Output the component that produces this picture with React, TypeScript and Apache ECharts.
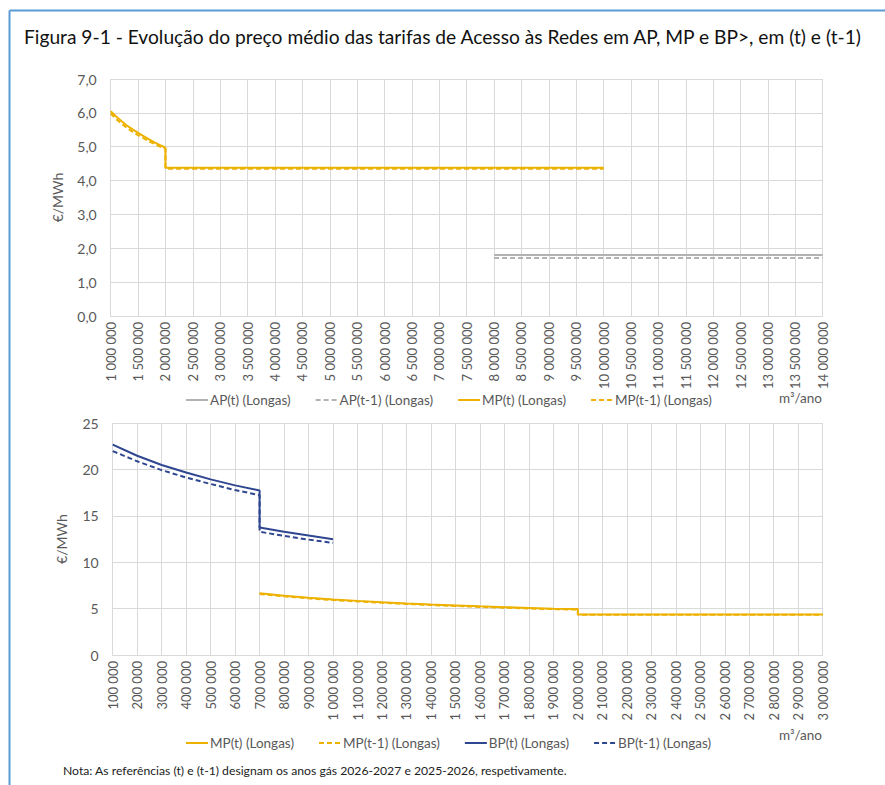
import React, { useEffect, useRef } from "react";
import * as echarts from "echarts";

const titleText =
  "Figura 9-1 - Evolução do preço médio das tarifas de Acesso às Redes em AP, MP e BP>, em (t) e (t-1)";
const noteText =
  "Nota: As referências (t) e (t-1) designam os anos gás 2026-2027 e 2025-2026, respetivamente.";
const unitX = "m³/ano";
const unitY = "€/MWh";

// Top chart (m³/ano, €/MWh)
const topAPt: [number, number][] = [
  [8000000, 1.8],
  [14000000, 1.8],
];
const topAPt1: [number, number][] = [
  [8000000, 1.71],
  [14000000, 1.71],
];
const topMPt: [number, number][] = [
  [1000000, 6.05], [1100000, 5.89], [1200000, 5.75], [1300000, 5.62], [1400000, 5.51],
  [1500000, 5.41], [1600000, 5.31], [1700000, 5.22], [1800000, 5.13], [1900000, 5.05],
  [2000000, 4.97], [2000000, 4.38], [10000000, 4.38],
];
const topMPt1: [number, number][] = [
  [1000000, 5.98], [1100000, 5.82], [1200000, 5.68], [1300000, 5.55], [1400000, 5.44],
  [1500000, 5.34], [1600000, 5.25], [1700000, 5.16], [1800000, 5.08], [1900000, 5.0],
  [2000000, 4.93], [2000000, 4.35], [10000000, 4.35],
];

// Bottom chart
const botMPt: [number, number][] = [
  [700000, 6.65], [800000, 6.4], [900000, 6.18], [1000000, 6.0], [1100000, 5.84],
  [1200000, 5.7], [1300000, 5.57], [1400000, 5.45], [1500000, 5.35], [1600000, 5.25],
  [1700000, 5.16], [1800000, 5.08], [1900000, 5.0], [2000000, 4.95], [2000000, 4.38],
  [3000000, 4.38],
];
const botMPt1: [number, number][] = [
  [700000, 6.58], [800000, 6.33], [900000, 6.11], [1000000, 5.93], [1100000, 5.78],
  [1200000, 5.64], [1300000, 5.51], [1400000, 5.39], [1500000, 5.29], [1600000, 5.19],
  [1700000, 5.1], [1800000, 5.02], [1900000, 4.95], [2000000, 4.9], [2000000, 4.34],
  [3000000, 4.34],
];
const botBPt: [number, number][] = [
  [100000, 22.7], [200000, 21.5], [300000, 20.5], [400000, 19.7], [500000, 18.95],
  [600000, 18.3], [700000, 17.75], [700000, 13.75], [800000, 13.3], [900000, 12.9],
  [1000000, 12.5],
];
const botBPt1: [number, number][] = [
  [100000, 22.0], [200000, 20.9], [300000, 19.95], [400000, 19.15], [500000, 18.45],
  [600000, 17.8], [700000, 17.25], [700000, 13.3], [800000, 12.85], [900000, 12.45],
  [1000000, 12.1],
];

const topLegend = ["AP(t) (Longas)", "AP(t-1) (Longas)", "MP(t) (Longas)", "MP(t-1) (Longas)"];
const botLegend = ["MP(t) (Longas)", "MP(t-1) (Longas)", "BP(t) (Longas)", "BP(t-1) (Longas)"];

const FONT = "Lato";
const GOLD = "#EDB100";
const NAVY = "#2F4690";
const GREY = "#B2B2B2";
const GRID = "#D9D9D9";
const TXT = "#595959";

const fmtThousands = (v: number) =>
  String(v).replace(/\B(?=(\d{3})+(?!\d))/g, " ");

export default function App() {
  const ref = useRef<HTMLDivElement>(null);
  useEffect(() => {
    if (!ref.current) return;
    const chart = echarts.init(ref.current, undefined, { renderer: "svg" });
    const xAxisCommon = {
      type: "value" as const,
      axisLine: { show: true, lineStyle: { color: GRID, width: 1 } },
      axisTick: { show: false },
      splitLine: { show: true, lineStyle: { color: GRID, width: 1 } },
      axisLabel: {
        rotate: 90,
        color: TXT,
        fontFamily: FONT,
        fontSize: 13,
        margin: 6,
        formatter: (v: number) => fmtThousands(v),
      },
    };
    const yAxisCommon = {
      type: "value" as const,
      name: unitY,
      nameLocation: "middle" as const,
      nameRotate: 90,
      nameTextStyle: { color: TXT, fontFamily: FONT, fontSize: 14 },
      axisLine: { show: false },
      axisTick: { show: false },
      splitLine: { show: true, lineStyle: { color: GRID, width: 1 } },
      axisLabel: { color: TXT, fontFamily: FONT, fontSize: 14, margin: 14 },
    };
    const solid = (c: string) => ({ color: c, width: 2, type: "solid" as const });
    const dashed = (c: string) => ({ color: c, width: 2, type: [5, 3] as any });
    const line = (name: string, data: [number, number][], idx: number, ls: any) => ({
      name,
      type: "line" as const,
      data,
      xAxisIndex: idx,
      yAxisIndex: idx,
      symbol: "none",
      showSymbol: false,
      color: ls.color,
      lineStyle: ls,
    });
    const legendCommon = {
      left: 180,
      itemWidth: 22,
      itemHeight: 14,
      itemGap: 24,
      itemStyle: { opacity: 0 },
      textStyle: { color: TXT, fontFamily: FONT, fontSize: 13.5, padding: [0, 0, 0, -3] },
      selectedMode: false,
    };
    chart.setOption({
      animation: false,
      backgroundColor: "#ffffff",
      textStyle: { fontFamily: FONT },
      title: {
        text: titleText,
        left: 19,
        top: 22,
        textStyle: { fontFamily: FONT, fontSize: 19.2, fontWeight: "normal", color: "#111111" },
      },
      grid: [
        { left: 110.7, right: 62.3, top: 79, height: 237 },
        { left: 112.7, right: 62.3, top: 423.3, height: 231.7 },
      ],
      xAxis: [
        { ...xAxisCommon, gridIndex: 0, min: 1000000, max: 14000000, interval: 500000 },
        { ...xAxisCommon, gridIndex: 1, min: 100000, max: 3000000, interval: 100000 },
      ],
      yAxis: [
        {
          ...yAxisCommon,
          gridIndex: 0,
          min: 0,
          max: 7,
          interval: 1,
          nameGap: 46,
          axisLabel: { ...yAxisCommon.axisLabel, formatter: (v: number) => v.toFixed(1).replace(".", ",") },
        },
        { ...yAxisCommon, gridIndex: 1, min: 0, max: 25, interval: 5, nameGap: 44 },
      ],
      legend: [
        { ...legendCommon, data: topLegend, top: 388 },
        { ...legendCommon, data: botLegend, top: 731 },
      ],
      graphic: [
        { type: "line", shape: { x1: 9.5, y1: 10.5, x2: 9.5, y2: 785 }, style: { stroke: "#5B9BD5", lineWidth: 2 } },
        { type: "line", shape: { x1: 9.5, y1: 10.5, x2: 885, y2: 10.5 }, style: { stroke: "#5B9BD5", lineWidth: 2 } },
        {
          type: "text",
          right: 63,
          top: 391,
          style: { text: unitX, fill: TXT, font: `13.5px ${FONT}` },
        },
        {
          type: "text",
          right: 63,
          top: 728,
          style: { text: unitX, fill: TXT, font: `13.5px ${FONT}` },
        },
        {
          type: "text",
          left: 63,
          top: 764,
          style: { text: noteText, fill: "#222222", font: `12.2px ${FONT}` },
        },
      ],
      series: [
        line("AP(t) (Longas)", topAPt, 0, solid(GREY)),
        line("AP(t-1) (Longas)", topAPt1, 0, dashed(GREY)),
        line("MP(t) (Longas)", topMPt, 0, solid(GOLD)),
        line("MP(t-1) (Longas)", topMPt1, 0, dashed(GOLD)),
        line("MP(t) (Longas)", botMPt, 1, solid(GOLD)),
        line("MP(t-1) (Longas)", botMPt1, 1, dashed(GOLD)),
        line("BP(t) (Longas)", botBPt, 1, solid(NAVY)),
        line("BP(t-1) (Longas)", botBPt1, 1, dashed(NAVY)),
      ],
    });
    return () => chart.dispose();
  }, []);
  return (
    <div
      ref={ref}
      style={{ position: "fixed", left: 0, top: 0, width: 885, height: 785 }}
    />
  );
}
